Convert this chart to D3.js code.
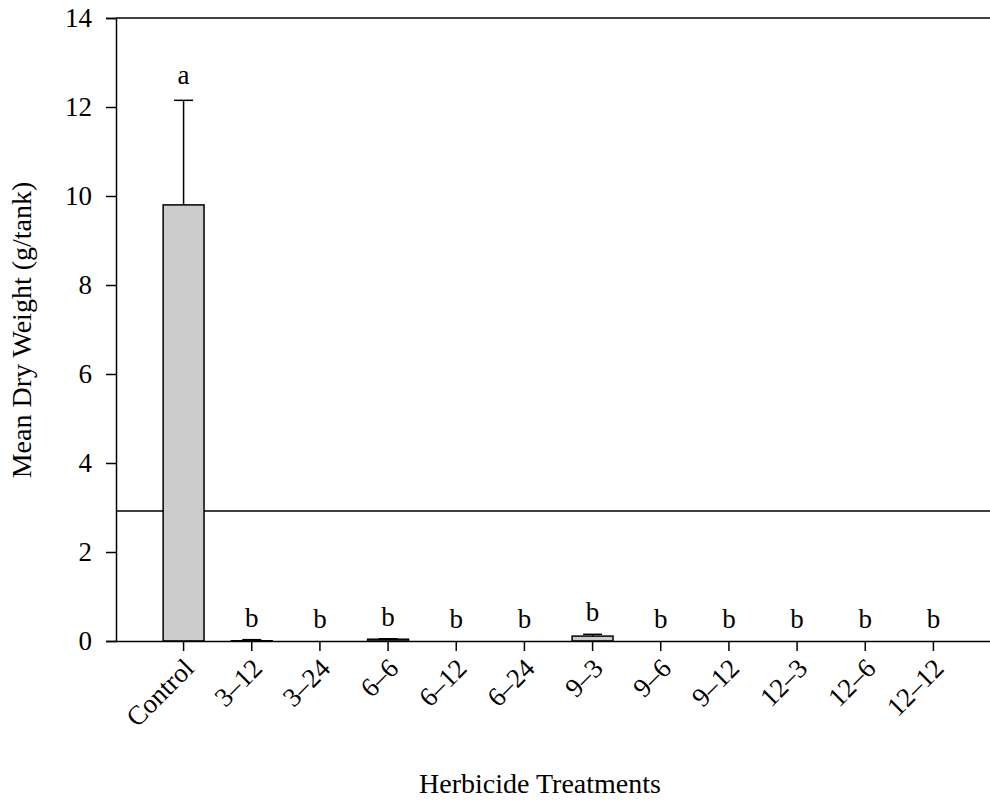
<!DOCTYPE html>
<html><head><meta charset="utf-8">
<script src="https://cdn.jsdelivr.net/npm/d3@7"></script>
<style>body{margin:0;background:#fff}svg{display:block}text{font-family:"Liberation Serif","Times New Roman",serif;fill:#000}</style>
</head><body>
<script>
const categories = ["Control","3–12","3–24","6–6","6–12","6–24","9–3","9–6","9–12","12–3","12–6","12–12"];
const means = [9.8, 0.005, 0, 0.04, 0, 0, 0.11, 0, 0, 0, 0, 0];
const errors = [2.35, 0.025, 0, 0.01, 0, 0, 0.04, 0, 0, 0, 0, 0];
const letters = ["a","b","b","b","b","b","b","b","b","b","b","b"];
const yTicks = [0,2,4,6,8,10,12,14];
const refLine = 2.92;

const W = 990, H = 805;
const svg = d3.select("body").append("svg").attr("width", W).attr("height", H);
const pLeft = 116, pRight = 990, pTop = 18, pBottom = 641;

const x = d3.scaleBand().domain(categories).range([149.5, 967.5]).paddingInner(0.4).paddingOuter(0.2);
const y = d3.scaleLinear().domain([0, 14]).range([pBottom, pTop]);

// top frame line
svg.append("line").attr("x1", pLeft).attr("x2", pRight).attr("y1", y(14)).attr("y2", y(14))
  .attr("stroke", "#000").attr("stroke-width", 1.5);
// reference line
svg.append("line").attr("x1", pLeft).attr("x2", pRight).attr("y1", y(refLine)).attr("y2", y(refLine))
  .attr("stroke", "#000").attr("stroke-width", 1.5);

// bars
const g = svg.append("g");
categories.forEach((c, i) => {
  const cx = x(c) + x.bandwidth() / 2;
  if (means[i] > 0) {
    g.append("rect").attr("x", x(c)).attr("width", x.bandwidth())
      .attr("y", y(means[i])).attr("height", y(0) - y(means[i]))
      .attr("fill", "#cccccc").attr("stroke", "#000").attr("stroke-width", 1.5);
  }
  const errTop = means[i] + errors[i];
  if (errors[i] > 0) {
    g.append("line").attr("x1", cx).attr("x2", cx).attr("y1", y(means[i])).attr("y2", y(errTop))
      .attr("stroke", "#000").attr("stroke-width", 1.5);
    g.append("line").attr("x1", cx - 9.5).attr("x2", cx + 9.5).attr("y1", y(errTop)).attr("y2", y(errTop))
      .attr("stroke", "#000").attr("stroke-width", 1.5);
  }
  g.append("text").attr("x", cx).attr("y", y(errTop) - (i === 0 ? 16 : 13))
    .attr("text-anchor", "middle").attr("font-size", 27).text(letters[i]);
});

// y axis
const yAxis = svg.append("g").attr("transform", `translate(${pLeft},0)`)
  .call(d3.axisLeft(y).tickValues(yTicks).tickSize(10).tickPadding(14).tickFormat(d3.format("d")));
yAxis.select(".domain").attr("stroke-width", 1.5);
yAxis.selectAll(".tick line").attr("stroke-width", 1.5);
yAxis.selectAll("text").attr("font-size", 27).attr("font-family", "Liberation Serif");

// x axis
const xAxis = svg.append("g").attr("transform", `translate(0,${pBottom})`)
  .call(d3.axisBottom(x).tickSize(10).tickSizeOuter(0));
xAxis.select(".domain").attr("d", `M${pLeft},0.5H${pRight}`).attr("stroke-width", 1.5);
xAxis.selectAll(".tick line").attr("stroke-width", 1.5);
xAxis.selectAll("text").attr("font-size", 27).attr("font-family", "Liberation Serif")
  .attr("text-anchor", "end").attr("dy", null).attr("y", 0)
  .attr("transform", "translate(12,29) rotate(-45)");

// titles
svg.append("text").attr("transform", `translate(31,330) rotate(-90)`)
  .attr("text-anchor", "middle").attr("font-size", 28).text("Mean Dry Weight (g/tank)");
svg.append("text").attr("x", 540).attr("y", 793).attr("text-anchor", "middle").attr("font-size", 28)
  .text("Herbicide Treatments");
</script>
</body></html>
